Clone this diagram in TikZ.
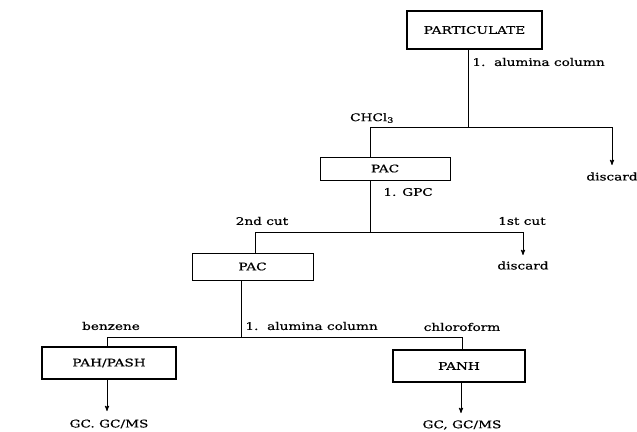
\documentclass[tikz,border=0pt]{standalone}
\usepackage{fontspec}
\setmainfont[FakeStretch=1.3,FakeBold=0.6]{DejaVu Serif}
\usetikzlibrary{positioning,arrows}

\begin{document}
\begin{tikzpicture}[x=1pt,y=-1pt,
    line width=0.9pt, >=stealth',
    lbl/.style={font=\fontsize{10.5}{12}\selectfont, inner sep=1pt},
    box/.style={draw, line width=0.8pt, font=\fontsize{10.5}{12}\selectfont, inner sep=0pt},
    bigbox/.style={box, line width=1.6pt}]
\useasboundingbox (0,0) rectangle (637,431);

% boxes
\node[box, line width=1.1pt, minimum width=135pt, minimum height=38pt] (part) at (474.5,30) {PARTICULATE};
\node[box, minimum width=130pt, minimum height=23pt] (pac1) at (385,168.5) {PAC};
\node[box, minimum width=121pt, minimum height=27pt] (pac2) at (252.5,266.5) {PAC};
\node[bigbox, minimum width=134pt, minimum height=32pt] (pah) at (109,363) {PAH/PASH};
\node[bigbox, minimum width=132pt, minimum height=32pt] (panh) at (459,366) {PANH};

% junctions
\coordinate (j1) at (468,127);
\coordinate (a1) at (370,127);
\coordinate (b1) at (612,127);
\coordinate (e1) at (612,165);
\coordinate (j2) at (370,232);
\coordinate (a2) at (255,232);
\coordinate (b2) at (523,232);
\coordinate (e2) at (523,255);
\coordinate (j3) at (241,337);
\coordinate (a3) at (107,337);
\coordinate (b3) at (462,337);
\coordinate (e3) at (107,411);
\coordinate (e4) at (461,413);

% first step
\draw (part.south -| j1) -- (j1);
\node[lbl, anchor=west] (col1) at (471,62) {1.\ \ alumina column};
\draw (pac1.north -| a1) -- (a1) -- (b1);
\draw[->] (b1) -- (e1);
\node[lbl] (chcl) at (372,118) {CHCl\textsubscript{3}};
\node[lbl, below=6pt] (dis1) at (e1) {discard};

% second step
\draw (pac1.south -| j2) -- (j2);
\node[lbl, anchor=west] (gpc) at (382,192) {1. GPC};
\draw (pac2.north -| a2) -- (a2) -- (b2);
\draw[->] (b2) -- (e2);
\node[lbl] (cut2) at (262,221) {2nd cut};
\node[lbl] (cut1) at (522,221) {1st cut};
\node[lbl, below=5pt] (dis2) at (e2) {discard};

% third step
\draw (pac2.south -| j3) -- (j3);
\node[lbl, anchor=west] (col2) at (244,326) {1.\ \ alumina column};
\draw (pah.north -| a3) -- (a3) -- (b3) -- (panh.north -| b3);
\node[lbl] (benz) at (111,326) {benzene};
\node[lbl] (chlo) at (462,327) {chloroform};

% analysis
\draw[->] (pah.south -| e3) -- (e3);
\draw[->] (panh.south -| e4) -- (e4);
\node[lbl] (gc1) at (109,424) {GC. GC/MS};
\node[lbl] (gc2) at (462,425) {GC, GC/MS};

\end{tikzpicture}
\end{document}
